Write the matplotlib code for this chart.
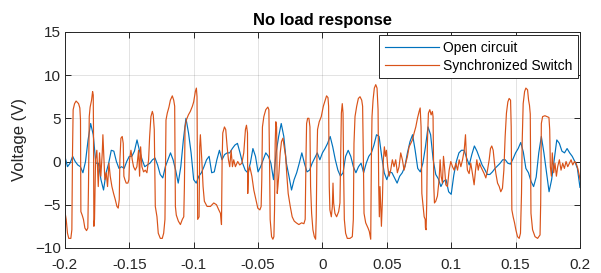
import numpy as np
import matplotlib
matplotlib.use('Agg')
import matplotlib.pyplot as plt

plt.rcParams['font.family'] = ['Liberation Sans', 'DejaVu Sans']

# open circuit voltage, sampled every 2 ms from -0.2 s to 0.2 s
open_v = [
    0.6, -0.6, -0.2, 0.6, 0.0, -0.4, -0.6, -1.3, 0.0, 2.5,
    4.4, 3.1, -0.2, -0.2, -2.1, -3.3, -1.3, -0.2, 1.3, 1.2,
    0.0, -0.8, -0.6, -0.8, 0.0, 0.6, 0.6, 1.2, 2.5, 1.2,
    0.2, -0.6, -0.4, -0.2, 0.2, 0.4, -0.4, -1.5, -1.9, -0.6,
    0.2,
    1.0, 0.2, -1.0, -2.5, -0.6, 2.5, 5.0, 3.3, 1.0, -2.1,
    -2.5, -1.7, -1.3, -0.6, 0.2, 0.6, -1.3, -1.2, 0.2, 1.3,
    0.2, 0.8, 1.0, 1.0, 1.5, 1.9, 2.1, 1.0, -0.2, -1.0,
    -1.3, -0.2, 1.5, 0.6, -1.2, -0.6, 0.2, 1.0, 0.6,
    -0.2, -2.1, 1.0, 2.9, 4.4, 2.9, -0.2, -1.7, -3.3, -2.1,
    -1.3, -0.2, 1.0, -0.2, -1.2, -1.0, -0.2, 0.4, 1.0, 0.2,
    1.0, 1.5, 2.1, 2.9, 1.7, 0.2, -1.0, -1.7, -1.3, 0.6,
    1.3, 0.6, -0.6, -1.3, -0.6, -0.2, -1.3, -0.2, 0.6,
    1.0, 1.9, 3.1, 2.9, 0.6, -1.3, -2.1, -1.2, -1.3, -1.9,
    -2.5, -1.7, -1.3, -0.6, 1.0, 2.3, 3.1, 1.3, -0.8, -1.2,
    -0.2, 1.7, 4.0, 3.1, 0.2, -1.5, -2.0, -2.9, -2.3, -2.1,
    -3.5, -3.8, -1.6, 0.0, 1.0, 1.3, 1.3, 0.4, -0.4,
    0.8, 1.8, 1.2, 0.4, -0.4, -0.9, -1.5, -1.5, -1.2, -0.8,
    -0.5, -0.2, 0.2, 0.2, -0.2, -0.3, 0.3, 1.0, 1.5, 2.2,
    1.1, -0.8, -1.3, -2.3, -2.9, -1.8, 1.0, 2.9, 1.0, -1.3,
    -3.5, -2.1, 0.2, 2.5, 2.1, 1.2, 1.0, 1.5, 1.0, 0.6,
    0.0, -0.8, -3.0,
]

# synchronized switch voltage, time in ms
sync_t_ms = [
    -200.0, -199.0, -198.0, -197.0, -195.4, -194.6, -194.1, -193.6, -192.5, -191.3,
    -189.4, -188.4, -187.9, -187.6, -186.6, -185.6, -184.5, -183.2, -182.2, -181.7,
    -181.1, -180.4, -179.3, -178.5, -178.0, -177.8, -177.5, -177.0, -176.2, -175.2,
    -174.1, -173.1, -172.1, -171.0, -170.5, -169.7, -169.0, -167.9, -166.9, -165.8,
    -164.8, -163.5, -162.2, -160.9, -159.6, -158.6, -157.8, -157.3, -156.5, -155.5,
    -154.7, -154.2, -153.4, -152.4, -151.1, -150.3, -149.8, -148.7, -147.7, -146.7,
    -145.4, -144.1, -142.8, -142.0, -141.2, -140.2, -138.9, -137.6, -136.3, -135.0,
    -134.2, -133.2, -132.1, -131.4, -130.6, -129.8, -128.5, -127.5, -125.9, -124.4,
    -123.3, -122.3, -121.5, -120.5, -119.2, -118.1,
    -116.6, -115.5, -114.75, -114.2, -113.5, -111.9, -110.3, -108.8, -107.7, -107.2,
    -106.7, -105.7, -104.1, -102.6, -101.0, -100.0, -98.7, -97.9, -97.4, -96.9,
    -95.8, -95.3, -94.8, -93.7, -92.7, -91.7, -89.6, -87.0, -84.4, -82.3,
    -80.5, -79.2, -78.4, -77.9, -77.4, -76.1, -75.1, -74.0, -73.0, -72.0,
    -70.9, -69.9, -68.9, -67.6, -65.8, -64.2, -62.6, -61.1, -59.8, -59.0,
    -58.2, -58.0, -57.5, -56.4, -54.8, -53.3, -51.7, -50.2, -48.6, -47.6,
    -47.1, -46.6, -45.5, -44.0, -42.4,
    -41.6, -41.1, -40.6, -39.5, -38.5, -37.7, -37.2, -36.7, -36.2, -35.6,
    -35.1, -34.6, -33.8, -32.8, -31.8, -30.7, -29.7, -28.6, -27.6, -26.6,
    -25.0, -23.5, -21.9, -20.3, -18.3, -16.2, -14.4, -13.4, -12.8, -12.3,
    -11.5, -10.5, -9.7, -9.2, -8.4, -7.4, -6.3, -5.3,
    -4.8, -4.3, -3.8, -2.5, -0.9, 0.7, 2.2, 3.2, 4.3, 4.8,
    5.3, 5.8, 6.9, 7.7, 8.2, 8.7, 9.7, 11.0, 12.6, 13.6,
    14.1, 14.7, 15.4, 16.0, 16.5, 17.0, 18.0, 19.3, 21.4, 23.2,
    24.0, 24.5, 25.3, 26.6, 27.9, 29.2, 30.5, 31.2, 31.8, 32.3,
    33.6, 35.4, 36.4,
    37.5, 38.0, 38.5, 39.3, 40.3, 41.4, 42.4, 43.2, 43.7, 44.2,
    44.7, 45.3, 45.8, 46.6, 47.3, 48.1, 48.9, 49.7, 50.7, 51.8,
    53.0, 54.3, 55.6, 56.9, 58.2, 59.5, 60.8, 62.1, 63.4, 64.7,
    66.0, 67.3, 68.6, 69.9, 71.2, 72.5, 73.8, 75.1, 75.9, 76.6,
    77.2, 77.9, 79.0, 79.8,
    80.0, 80.5, 81.0, 81.5, 82.3, 83.4, 84.4, 85.4, 85.9, 86.5,
    87.0, 88.0, 89.3, 90.6, 91.4, 92.2, 93.2, 94.0, 94.8, 95.8,
    97.1, 98.4, 99.7, 101.0, 102.3, 103.6, 104.9, 106.2, 107.5, 108.8,
    110.1, 111.1, 111.9, 112.6, 113.9, 115.2, 116.5, 117.8, 118.9, 119.9,
    121.0, 122.0, 123.0,
    124.3, 125.6, 126.9, 128.2, 129.5, 130.5, 131.5, 132.6, 133.6, 134.7,
    136.0, 137.3, 138.5, 139.8, 140.9, 141.9, 142.9, 144.0, 145.0, 146.1,
    146.6, 147.1, 148.1, 149.2, 150.2, 151.5, 152.8, 153.8, 154.6, 155.1,
    155.9, 157.0, 158.0, 159.3, 160.1, 160.8, 161.4,
    161.95, 163.2, 165.1, 167.1, 169.0, 169.5, 170.0, 171.0, 172.8, 174.4,
    175.9, 176.5, 177.0, 177.8, 178.5, 179.6, 180.6, 181.7, 182.7, 184.0,
    185.3, 186.6, 187.9, 189.2, 190.5, 191.8, 193.1, 194.4, 195.7, 197.0,
    198.3, 199.6, 200.0,
]
sync_v = [
    -5.8, -6.7, -8.3, -8.9, -8.9, -7.9, 1.0, 6.0, 6.7, 7.0,
    6.7, 6.2, 4.8, -5.8, -6.2, -6.7, -7.7, -8.0, -7.7, -2.9,
    5.2, 6.3, 7.1, 8.1, 7.7, 3.7, -7.5, -6.7, 0.2, 1.3,
    -2.9, 1.0, -1.7, 1.0, 3.1, 0.2, -2.1, -1.3, -2.9, -0.2,
    -1.7, -2.9, -3.7, -4.4, -5.2, -5.4, -4.4, 0.2, 2.7, 2.9,
    2.1, -1.7, -2.1, -2.5, -2.5, -2.1, 0.2, 1.3, 0.2, -0.6,
    -1.0, -0.6, 1.3, -1.7, 1.7, -0.6, -1.2, -1.0, -1.3, 0.2,
    2.9, 5.2, 5.8, 5.4, 3.7, -5.2, -6.4, -8.3, -8.9, -8.9,
    -8.3, -6.7, 4.8, 5.6, 6.3, 7.1,
    7.6, 7.1, 6.4, -5.2, -6.2, -6.9, -7.3, -6.7, -6.4, -2.9,
    4.0, 4.8, 5.4, 5.8, 6.4, 6.9, 8.1, 8.5, 7.5, -6.7,
    -6.4, 1.7, 3.1, 0.2, -2.9, -4.6, -5.2, -5.2, -4.8, -5.0,
    -5.6, -6.0, -7.3, 0.2, 3.3, 4.0, 3.7, 1.7, 0.2, -0.6,
    1.3, -0.6, 0.2, -0.6, 0.0, -0.4, -0.2, 1.0, 3.7, 4.2,
    3.3, -3.7, -1.3, -0.6, -1.7, -3.3, -4.4, -5.4, -5.6, -5.2,
    -2.1, 4.0, 5.2, 6.0, 6.3,
    6.0, 0.2, -6.7, -8.7, -9.0, -8.7, -5.6, 2.1, 4.6, 4.0,
    -3.7, -2.9, -1.4, 1.0, 2.3, 2.7, 1.7, 0.6, -1.7, -3.7,
    -5.2, -6.4, -6.9, -7.1, -7.3, -7.1, -7.2, -6.7, 0.2, 4.4,
    5.0, 5.0, 4.0, -2.9, -6.0, -7.9, -8.7, -9.0,
    -6.4, 0.2, 3.7, 4.6, 5.2, 6.4, 7.1, 7.6, 7.4, 6.4,
    -2.9, -5.6, -6.4, -5.2, -2.5, -4.8, -6.0, -6.4, -5.8, -4.8,
    0.2, 5.6, 6.7, 5.6, -1.7, -6.7, -8.3, -8.9, -8.9, -8.7,
    -6.7, 2.1, 5.2, 6.4, 7.3, 7.5, 7.1, 6.4, 0.2, -6.0,
    -7.1, -7.7, -8.1,
    -9.0, 0.2, 5.2, 7.1, 8.5, 8.9, 8.5, 6.0, -2.9, -6.4,
    -2.9, -5.2, -7.5, -4.4, 0.2, 1.7, 0.6, 1.3, -0.6, -1.7,
    -1.0, 0.2, -0.6, 0.2, -1.3, -0.6, 1.0, 0.2, -1.0, -0.2,
    0.6, 1.7, 2.1, 2.5, 3.3, 4.0, 5.0, 5.8, 6.2, 4.0,
    -3.7, -4.8, -6.4, -6.7,
    -7.7, -7.9, -4.8, 2.1, 5.6, 6.0, 5.4, 5.8, 5.2, -2.9,
    -4.8, -4.6, -4.0, -2.1, 0.2, -1.7, -2.5, 0.6, -0.6, -2.7,
    -2.9, -1.0, 0.0, -0.6, -1.0, -0.2, -1.0, 0.2, -0.6, 0.2,
    1.3, 3.1, 0.2, -1.0, -1.4, -0.2, -1.4, -2.7, -1.0, 0.2,
    -1.0, -0.2, -0.6,
    -1.0, -1.4, -1.9, -1.0, 0.2, 1.5, 1.8, 1.3, -0.2, -1.4,
    -2.5, -2.9, -3.5, -3.1, -1.0, 2.9, 5.6, 6.9, 7.3, 7.1,
    4.0, -5.6, -6.4, -7.1, -7.9, -8.7, -8.9, -8.3, -3.7, 2.1,
    6.7, 8.1, 8.5, 8.3, 7.1, 6.5, 5.5,
    -6.0, -7.9, -8.7, -8.9, -8.5, -4.8, 4.4, 5.2, 5.3, 5.2,
    5.1, 3.7, -0.6, -1.7, 1.0, -1.3, -0.2, -1.7, -0.6, 0.2,
    -1.0, -0.2, -0.8, 0.0, -0.6, -0.2, 0.2, -0.4, 0.0, -0.2,
    -0.8, -1.7, -2.1,
]

x_ticks = [-0.2, -0.15, -0.1, -0.05, 0, 0.05, 0.1, 0.15, 0.2]
x_tick_labels = ['-0.2', '-0.15', '-0.1', '-0.05', '0', '0.05', '0.1', '0.15', '0.2']
y_ticks = [-10, -5, 0, 5, 10, 15]

open_t = np.linspace(-0.2, 0.2, len(open_v))
sync_t = np.asarray(sync_t_ms) / 1000.0

fig = plt.figure(figsize=(6.01, 2.73), dpi=100)
ax = fig.add_axes([0.108, 0.092, 0.857, 0.791])

ax.plot(open_t, open_v, color='#0072BD', lw=0.85, label='Open circuit')
ax.plot(sync_t, sync_v, color='#D95319', lw=0.85, label='Synchronized Switch')

ax.set_xlim(-0.2, 0.2)
ax.set_ylim(-10, 15)
ax.set_xticks(x_ticks)
ax.set_xticklabels(x_tick_labels)
ax.set_yticks(y_ticks)

ax.grid(True, color='#262626', alpha=0.15, lw=0.6)
ax.set_axisbelow(True)
for s in ax.spines.values():
    s.set_color('#262626')
    s.set_linewidth(0.7)
ax.tick_params(direction='in', length=4, width=0.7, colors='#262626',
               labelsize=11, top=True, right=True)
ax.tick_params(axis='x', pad=7)
ax.tick_params(axis='y', pad=3)

ax.set_ylabel('Voltage (V)', fontsize=12, color='#262626', labelpad=6)
ax.set_title('No load response', fontsize=12, fontweight='bold', pad=5)

leg = ax.legend(loc='upper right', bbox_to_anchor=(0.996, 0.985), fontsize=10,
                handlelength=3.9, handletextpad=0.3, borderpad=0.4,
                labelspacing=0.3, fancybox=False, framealpha=1,
                edgecolor='#262626', borderaxespad=0)
leg.get_frame().set_linewidth(0.7)

fig.savefig('out.png', dpi=100)
